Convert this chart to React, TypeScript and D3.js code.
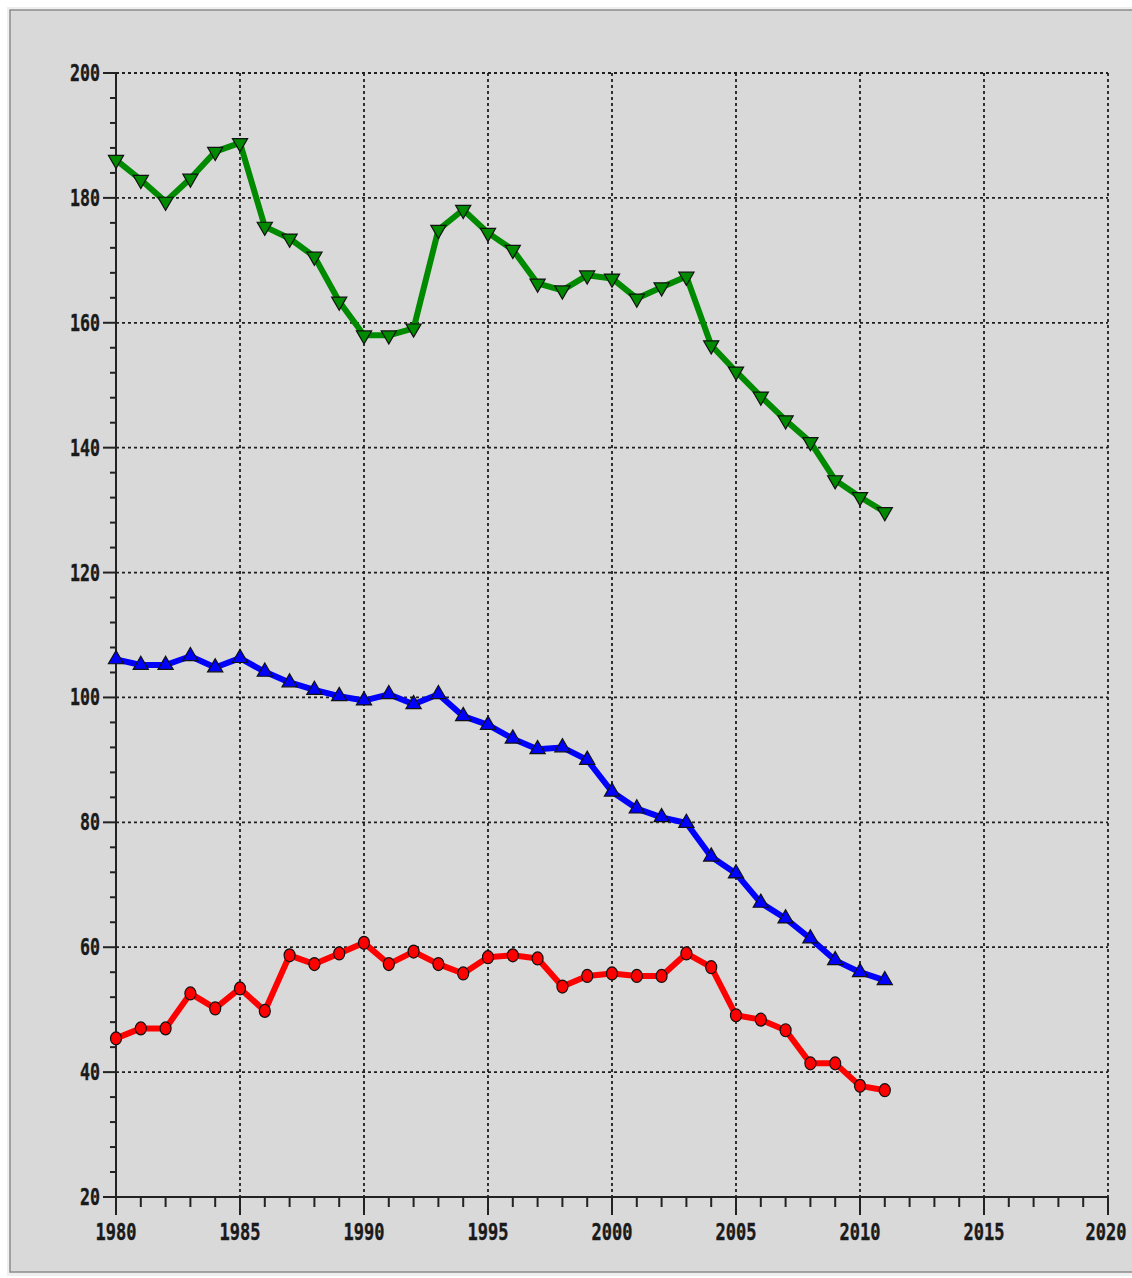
import { useMemo } from "react";
import * as d3 from "d3";

const WIDTH = 1132;
const HEIGHT = 1278;
const PLOT = { left: 116, right: 1108, top: 73, bottom: 1197 };

const years = d3.range(1980, 2012);

const greenValues = [
  186.1, 182.9, 179.4, 183.1, 187.4, 188.8, 175.4, 173.5, 170.6, 163.4,
  158.0, 158.0, 159.1, 174.9, 178.1, 174.4, 171.7, 166.3, 165.2, 167.6,
  167.1, 163.9, 165.7, 167.4, 156.4, 152.2, 148.2, 144.4, 140.9, 134.8,
  132.1, 129.7,
];
const blueValues = [
  106.1, 105.2, 105.2, 106.6, 104.8, 106.3, 104.1, 102.4, 101.2, 100.2,
  99.5, 100.5, 98.9, 100.5, 97.0, 95.6, 93.4, 91.7, 92.0, 90.0,
  84.9, 82.2, 80.8, 79.9, 74.5, 71.8, 67.1, 64.6, 61.4, 57.9,
  56.0, 54.7,
];
const redValues = [
  45.4, 47.0, 47.0, 52.6, 50.2, 53.4, 49.8, 58.7, 57.3, 59.0,
  60.7, 57.3, 59.3, 57.3, 55.8, 58.4, 58.7, 58.2, 53.7, 55.4,
  55.8, 55.4, 55.4, 59.0, 56.8, 49.1, 48.4, 46.7, 41.4, 41.4,
  37.8, 37.1,
];

const xTicks = [1980, 1985, 1990, 1995, 2000, 2005, 2010, 2015, 2020];
const yTicks = [20, 40, 60, 80, 100, 120, 140, 160, 180, 200];

const FONT = "'DejaVu Sans Mono', 'Liberation Mono', monospace";

export default function App() {
  const xScale = useMemo(
    () => d3.scaleLinear().domain([1980, 2020]).range([PLOT.left, PLOT.right]),
    []
  );
  const yScale = useMemo(
    () => d3.scaleLinear().domain([20, 200]).range([PLOT.bottom, PLOT.top]),
    []
  );

  const line = d3
    .line<number>()
    .x((_, i) => xScale(years[i]))
    .y((d) => yScale(d));

  const tri = d3.symbol().type(d3.symbolTriangle).size(100)() as string;

  const series = [
    { key: "green", values: greenValues, color: "#008a00", marker: "down" },
    { key: "blue", values: blueValues, color: "#0000ff", marker: "up" },
    { key: "red", values: redValues, color: "#ff0000", marker: "circle" },
  ];

  const minorY = d3.range(20, 201, 4).filter((v) => v % 20 !== 0);
  const minorX = d3.range(1980, 2021).filter((v) => v % 5 !== 0);

  return (
    <svg
      width={WIDTH}
      height={HEIGHT}
      style={{ position: "absolute", left: 0, top: 0, display: "block" }}
    >
      <rect x={0} y={0} width={WIDTH} height={HEIGHT} fill="#ffffff" />
      {/* panel with soft border */}
      <rect x={7} y={7} width={WIDTH} height={1269} fill="#efefef" />
      <rect x={10} y={10} width={WIDTH} height={1262} fill="#d9d9d9" stroke="#8c8c8c" strokeWidth={1.5} />

      {/* grid */}
      <g stroke="#1e1e1e" strokeWidth={1.8} strokeDasharray="3,3">
        {xTicks.slice(1).map((t) => (
          <line key={"gx" + t} x1={xScale(t)} x2={xScale(t)} y1={PLOT.top} y2={PLOT.bottom} />
        ))}
        {yTicks.slice(1).map((t) => (
          <line key={"gy" + t} x1={PLOT.left} x2={PLOT.right} y1={yScale(t)} y2={yScale(t)} />
        ))}
      </g>

      {/* axes */}
      <g stroke="#222" strokeWidth={2}>
        <line x1={PLOT.left} x2={PLOT.left} y1={PLOT.top} y2={PLOT.bottom} />
        <line x1={PLOT.left} x2={PLOT.right} y1={PLOT.bottom} y2={PLOT.bottom} />
        {yTicks.map((t) => (
          <line key={"ty" + t} x1={PLOT.left - 13} x2={PLOT.left} y1={yScale(t)} y2={yScale(t)} />
        ))}
        {minorY.map((t) => (
          <line key={"my" + t} x1={PLOT.left - 6} x2={PLOT.left} y1={yScale(t)} y2={yScale(t)} />
        ))}
        {xTicks.map((t) => (
          <line key={"tx" + t} x1={xScale(t)} x2={xScale(t)} y1={PLOT.bottom} y2={PLOT.bottom + 18} />
        ))}
        {minorX.map((t) => (
          <line key={"mx" + t} x1={xScale(t)} x2={xScale(t)} y1={PLOT.bottom} y2={PLOT.bottom + 10} />
        ))}
      </g>

      {/* tick labels */}
      <g fontFamily={FONT} fontWeight="bold" fontSize={23} fill="#1a1a1a" stroke="#1a1a1a" strokeWidth={0.4}>
        {yTicks.map((t) => (
          <text
            key={"ly" + t}
            x={100}
            y={yScale(t)}
            textAnchor="end"
            dominantBaseline="central"
            textLength={String(t).length * 10}
            lengthAdjust="spacingAndGlyphs"
          >
            {t}
          </text>
        ))}
        {xTicks.map((t) => (
          <text
            key={"lx" + t}
            x={t === 2020 ? xScale(t) - 2 : xScale(t)}
            y={1232}
            textAnchor="middle"
            dominantBaseline="central"
            textLength={41}
            lengthAdjust="spacingAndGlyphs"
          >
            {t}
          </text>
        ))}
      </g>

      {/* series */}
      {series.map((s) => (
        <g key={s.key}>
          <path
            d={line(s.values) || ""}
            fill="none"
            stroke={s.color}
            strokeWidth={6}
            strokeLinejoin="round"
            strokeLinecap="round"
          />
          {s.values.map((v, i) => {
            const cx = xScale(years[i]);
            const cy = yScale(v);
            if (s.marker === "circle") {
              return (
                <ellipse key={i} cx={cx} cy={cy} rx={5.5} ry={6.5} fill={s.color} stroke="#111" strokeWidth={1.2} />
              );
            }
            return (
              <path
                key={i}
                d={tri}
                transform={`translate(${cx},${cy})${s.marker === "down" ? " rotate(180)" : ""}`}
                fill={s.color}
                stroke="#111"
                strokeWidth={1.2}
              />
            );
          })}
        </g>
      ))}
    </svg>
  );
}
